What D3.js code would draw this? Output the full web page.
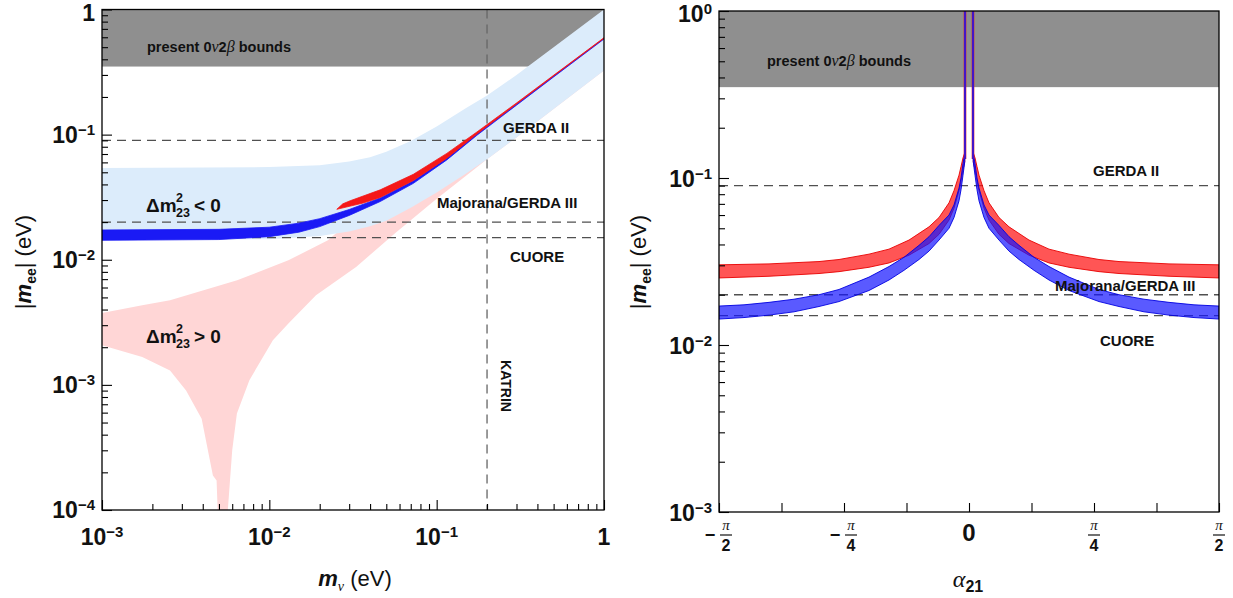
<!DOCTYPE html>
<html><head><meta charset="utf-8">
<script src="https://cdn.jsdelivr.net/npm/d3@7"></script>
<style>
body{margin:0;background:#fff}
svg{display:block}
text{font-family:"Liberation Sans",Arial,Helvetica,sans-serif;fill:#111}
</style>
</head><body>
<svg id="c" width="1233" height="598"></svg>
<script>
// ---------------- DATA (left panel: |m_ee| vs m_nu) ----------------
const grayBound = 0.35;                 // present 0v2b bounds (lower edge)
const expLines = [0.09, 0.02, 0.015];   // GERDA II, Majorana/GERDA III, CUORE
const expNames = ["GERDA II", "Majorana/GERDA III", "CUORE"];
const katrinMass = 0.2;

// inverted hierarchy allowed region (light blue): [m_nu, m_ee]
const ihUpper = [[0.001,0.054],[0.01,0.055],[0.02,0.057],[0.03,0.061],[0.04,0.066],[0.05,0.073],[0.07,0.089],[0.1,0.116],[0.15,0.163],[0.2,0.205],[0.3,0.30],[0.5,0.5],[1,1.0]];
const ihLower = [[0.001,0.0143],[0.01,0.0146],[0.02,0.0155],[0.03,0.0168],[0.04,0.0185],[0.05,0.0205],[0.07,0.026],[0.1,0.0345],[0.15,0.049],[0.2,0.0635],[0.3,0.095],[0.5,0.16],[1,0.325]];

// normal hierarchy allowed region (pink): [m_nu, m_ee]
const nhUpper = [[0.001,0.00375],[0.00174,0.00432],[0.00255,0.00474],[0.00642,0.00686],[0.013,0.0099],[0.0224,0.0143],[0.03,0.02],[0.05,0.03],[0.1,0.06],[0.2,0.12],[1,0.59]];
const nhLower = [[0.001,0.00207],[0.00174,0.00167],[0.00255,0.0013],[0.00318,0.0009],[0.00394,0.000537],[0.0046,0.000189],[0.00484,0.000172],[0.00494,0.00008],[0.00558,0.00008],[0.006,0.0003],[0.0064,0.00059],[0.0076,0.00109],[0.0105,0.00227],[0.013,0.0031],[0.019,0.0052],[0.033,0.00875],[0.0564,0.0163],[0.098,0.030],[0.2,0.0635],[0.3,0.095],[0.5,0.16],[1,0.325]];

// model prediction, IH (blue band)
const blueM  = [0.001, 0.005, 0.01, 0.015, 0.02, 0.03, 0.046, 0.0726, 0.115, 0.174, 0.3, 0.5, 1];
const blueLo = [0.0143, 0.0145, 0.0153, 0.0166, 0.0184, 0.0226, 0.0292, 0.0408, 0.0628, 0.0988, 0.172, 0.289, 0.581];
const blueHi = [0.0173, 0.0175, 0.0182, 0.0196, 0.0213, 0.0252, 0.0312, 0.0428, 0.0648, 0.1010, 0.175, 0.294, 0.588];

// model prediction, NH (red band): [m_nu, m_ee]
const redUpper = [[0.0253,0.0253],[0.0275,0.0280],[0.0304,0.0296],[0.046,0.0362],[0.0726,0.0482],[0.115,0.0708],[0.174,0.1050],[0.3,0.179],[0.5,0.298],[1,0.595]];
const redLower = [[0.0253,0.0253],[0.0364,0.0284],[0.046,0.0315],[0.0726,0.0430],[0.115,0.0648],[0.174,0.1010],[0.3,0.1755],[0.5,0.2945],[1,0.589]];

const leftXTicks = [0.001, 0.01, 0.1, 1];
const leftXLabels = [["10","−3"],["10","−2"],["10","−1"],["1",""]];
const leftYTicks = [1, 0.1, 0.01, 0.001, 0.0001];
const leftYLabels = [["1",""],["10","−1"],["10","−2"],["10","−3"],["10","−4"]];

// ---------------- DATA (right panel: |m_ee| vs alpha21, alpha in units of pi) ----------------
const redAlphaPos  = [0.0085, 0.012, 0.016, 0.02, 0.03, 0.04, 0.06, 0.08, 0.12, 0.16, 0.2, 0.26, 0.3, 0.4, 0.5];
const redAlphaNeg  = [-0.0085, -0.012, -0.016, -0.02, -0.03, -0.04, -0.06, -0.08, -0.12, -0.16, -0.2, -0.26, -0.3, -0.4, -0.5];
const redRightLo   = [0.125, 0.112, 0.096, 0.084, 0.066, 0.056, 0.046, 0.0405, 0.0345, 0.031, 0.0292, 0.0275, 0.0268, 0.0258, 0.0252];
const redRightHi   = [0.142, 0.132, 0.117, 0.104, 0.084, 0.071, 0.058, 0.051, 0.0425, 0.0375, 0.0350, 0.0325, 0.0316, 0.0306, 0.0302];

const blueAlphaPos = [0.0085, 0.012, 0.016, 0.02, 0.03, 0.04, 0.06, 0.08, 0.1, 0.13, 0.16, 0.2, 0.26, 0.3, 0.35, 0.4, 0.45, 0.5];
const blueAlphaNeg = [-0.0085, -0.012, -0.016, -0.02, -0.03, -0.04, -0.06, -0.08, -0.1, -0.13, -0.16, -0.2, -0.26, -0.3, -0.35, -0.4, -0.45, -0.5];
const blueRightHi  = [0.140, 0.122, 0.100, 0.087, 0.069, 0.060, 0.052, 0.0445, 0.0395, 0.0335, 0.0295, 0.0255, 0.0215, 0.0200, 0.0188, 0.0180, 0.0174, 0.0171];
const blueRightLo  = [0.125, 0.104, 0.085, 0.073, 0.058, 0.050, 0.0425, 0.0365, 0.0325, 0.0280, 0.0245, 0.0212, 0.0182, 0.0170, 0.0158, 0.0151, 0.0146, 0.0143];

const spikeAlpha = [-0.008, 0.008];
const spikeFrom = 0.13;

const rightXTicks = [-0.5,-0.375,-0.25,-0.125,0,0.125,0.25,0.375,0.5];
const rightXLabelVals = [-0.5,-0.25,0,0.25,0.5];
const rightXLabels = [["−","π","2"],["−","π","4"],["","0",""],["","π","4"],["","π","2"]];
const rightYTicks = [1, 0.1, 0.01, 0.001];
const rightYLabels = [["10","0"],["10","−1"],["10","−2"],["10","−3"]];

// ---------------- DRAW ----------------
const svg = d3.select("#c");
const defs = svg.append("defs");

const xL = d3.scaleLog().domain([1e-3, 1]).range([102, 604]);
const yL = d3.scaleLog().domain([1e-4, 1]).range([510, 9.5]);
const xR = d3.scaleLinear().domain([-0.5, 0.5]).range([719, 1219]);
const yR = d3.scaleLog().domain([1e-3, 1]).range([512, 11]);

function clip(id, x, y) {
  defs.append("clipPath").attr("id", id).append("rect")
    .attr("x", x.range()[0]).attr("y", y.range()[1])
    .attr("width", x.range()[1]-x.range()[0]).attr("height", y.range()[0]-y.range()[1]);
}
clip("clipL", xL, yL); clip("clipR", xR, yR);

const GRAY = "#8f8f8f", LBLUE = "#dcecfb", PINK = "#ffd6d6";
const DASH = "#505050";

// ----- left panel -----
const gL = svg.append("g").attr("clip-path", "url(#clipL)");
gL.append("rect").attr("x", xL(1e-3)).attr("y", yL(1)).attr("width", xL(1)-xL(1e-3)).attr("height", yL(grayBound)-yL(1)).attr("fill", GRAY);

const lineL = d3.line().x(d => xL(d[0])).y(d => yL(d[1]));
gL.append("path").attr("d", lineL(nhUpper.concat(nhLower.slice().reverse())) + "Z").attr("fill", PINK);
gL.append("path").attr("d", lineL(ihUpper.concat(ihLower.slice().reverse())) + "Z").attr("fill", LBLUE);

expLines.forEach(v => {
  gL.append("line").attr("x1", xL(1e-3)).attr("x2", xL(1)).attr("y1", yL(v)).attr("y2", yL(v))
    .attr("stroke", DASH).attr("stroke-width", 1.3).attr("stroke-dasharray", "9,6");
});
gL.append("line").attr("x1", xL(katrinMass)).attr("x2", xL(katrinMass)).attr("y1", yL(1)).attr("y2", yL(1e-4))
  .attr("stroke", "#666").attr("stroke-width", 1.3).attr("stroke-dasharray", "9,6");

const areaL = d3.area().x((d,i) => xL(blueM[i])).y0((d,i) => yL(blueLo[i])).y1((d,i) => yL(blueHi[i]));
gL.append("path").attr("d", areaL(blueM)).attr("fill", "#1a1af5").attr("stroke", "#1a1af5").attr("stroke-width", 0.8);
gL.append("path").attr("d", lineL(redUpper.concat(redLower.slice().reverse())) + "Z").attr("fill", "#f51818").attr("stroke", "#f51818").attr("stroke-width", 0.8);

// ----- right panel -----
const gR = svg.append("g").attr("clip-path", "url(#clipR)");
gR.append("rect").attr("x", xR(-0.5)).attr("y", yR(1)).attr("width", xR(0.5)-xR(-0.5)).attr("height", yR(grayBound)-yR(1)).attr("fill", GRAY);
expLines.forEach(v => {
  gR.append("line").attr("x1", xR(-0.5)).attr("x2", xR(0.5)).attr("y1", yR(v)).attr("y2", yR(v))
    .attr("stroke", DASH).attr("stroke-width", 1.3).attr("stroke-dasharray", "9,6");
});
function bandR(alpha, lo, hi, fill, stroke) {
  const a = d3.area().x((d,i) => xR(alpha[i])).y0((d,i) => yR(lo[i])).y1((d,i) => yR(hi[i]));
  gR.append("path").attr("d", a(alpha)).attr("fill", fill).attr("stroke", stroke).attr("stroke-width", 0.9);
}
bandR(redAlphaNeg, redRightLo, redRightHi, "rgba(255,20,20,0.72)", "#e80000");
bandR(redAlphaPos, redRightLo, redRightHi, "rgba(255,20,20,0.72)", "#e80000");
bandR(blueAlphaNeg, blueRightLo, blueRightHi, "rgba(20,20,255,0.70)", "#0000e0");
bandR(blueAlphaPos, blueRightLo, blueRightHi, "rgba(20,20,255,0.70)", "#0000e0");
spikeAlpha.forEach(a => {
  gR.append("line").attr("x1", xR(a)).attr("x2", xR(a)).attr("y1", yR(spikeFrom)).attr("y2", yR(1))
    .attr("stroke", "#e02020").attr("stroke-width", 2.6);
  gR.append("line").attr("x1", xR(a)).attr("x2", xR(a)).attr("y1", yR(spikeFrom)).attr("y2", yR(1))
    .attr("stroke", "#1010ff").attr("stroke-width", 1.5);
});

// ----- axes (ticks inward) -----
function minorLog(lo, hi) {
  const out = [];
  for (let e = Math.log10(lo); e < Math.log10(hi); e++) for (let k = 2; k <= 9; k++) out.push(k * Math.pow(10, e));
  return out;
}
function axisG(gen, tr) {
  const g = svg.append("g").attr("transform", tr).call(gen);
  g.select(".domain").remove();
  g.selectAll("text").remove();
  g.selectAll("line").attr("stroke", "#000").attr("stroke-width", 1.1);
}
axisG(d3.axisLeft(yL).tickValues(leftYTicks).tickSize(-10), `translate(${xL.range()[0]},0)`);
axisG(d3.axisLeft(yL).tickValues(minorLog(1e-4, 1)).tickSize(-6), `translate(${xL.range()[0]},0)`);
axisG(d3.axisBottom(xL).tickValues(leftXTicks).tickSize(-10), `translate(0,${yL.range()[0]})`);
axisG(d3.axisBottom(xL).tickValues(minorLog(1e-3, 1)).tickSize(-6), `translate(0,${yL.range()[0]})`);
axisG(d3.axisLeft(yR).tickValues(rightYTicks).tickSize(-10), `translate(${xR.range()[0]},0)`);
axisG(d3.axisLeft(yR).tickValues(minorLog(1e-3, 1)).tickSize(-6), `translate(${xR.range()[0]},0)`);
axisG(d3.axisBottom(xR).tickValues(rightXTicks).tickSize(-9), `translate(0,${yR.range()[0]})`);

[[xL, yL], [xR, yR]].forEach(([x, y]) => {
  svg.append("rect").attr("x", x.range()[0]).attr("y", y.range()[1])
    .attr("width", x.range()[1]-x.range()[0]).attr("height", y.range()[0]-y.range()[1])
    .attr("fill", "none").attr("stroke", "#000").attr("stroke-width", 1.3);
});

// ----- tick labels -----
function powLabel(x, y, base, exp, anchor) {
  const t = svg.append("text").attr("x", x).attr("y", y).attr("text-anchor", anchor)
    .attr("font-size", 23).attr("font-weight", "bold");
  t.append("tspan").text(base);
  if (exp) t.append("tspan").attr("dy", -8).attr("font-size", 15).text(exp);
}
leftYTicks.forEach((v, i) => powLabel(xL.range()[0] - 7, Math.max(yL(v) + 8, 21), leftYLabels[i][0], leftYLabels[i][1], "end"));
leftXTicks.forEach((v, i) => powLabel(xL(v), 545, leftXLabels[i][0], leftXLabels[i][1], "middle"));
rightYTicks.forEach((v, i) => powLabel(xR.range()[0] - 7, Math.max(yR(v) + 9, 22), rightYLabels[i][0], rightYLabels[i][1], "end"));

rightXLabelVals.forEach((v, i) => {
  const [sgn, num, den] = rightXLabels[i];
  const cx = xR(v);
  if (num === "0") {
    svg.append("text").attr("x", cx).attr("y", 541).attr("text-anchor", "middle")
      .attr("font-size", 24).attr("font-weight", "bold").text("0");
    return;
  }
  const fx = sgn ? cx + 7 : cx;
  if (sgn) svg.append("text").attr("x", cx - 9).attr("y", 541).attr("text-anchor", "middle")
    .attr("font-size", 18).attr("font-weight", "bold").text(sgn);
  svg.append("text").attr("x", fx).attr("y", 530).attr("text-anchor", "middle")
    .attr("font-size", 15).attr("font-style", "italic").style("font-family", "'Liberation Serif',serif").text(num);
  svg.append("line").attr("x1", fx - 6).attr("x2", fx + 6).attr("y1", 535).attr("y2", 535)
    .attr("stroke", "#111").attr("stroke-width", 1.2);
  svg.append("text").attr("x", fx).attr("y", 551).attr("text-anchor", "middle")
    .attr("font-size", 16).attr("font-weight", "bold").text(den);
});

// ----- axis titles -----
function yTitle(cx, cy) {
  const t = svg.append("text").attr("transform", `translate(${cx},${cy}) rotate(-90)`)
    .attr("text-anchor", "middle").attr("font-size", 22);
  t.append("tspan").text("|");
  t.append("tspan").attr("font-weight", "bold").attr("font-style", "italic").text("m");
  t.append("tspan").attr("font-weight", "bold").attr("font-size", 14).attr("dy", 5).text("ee");
  t.append("tspan").attr("dy", -5).text("| (eV)");
}
yTitle(31, 262);
yTitle(646, 262);

const xt = svg.append("text").attr("x", 355).attr("y", 586).attr("text-anchor", "middle").attr("font-size", 22);
xt.append("tspan").attr("font-weight", "bold").attr("font-style", "italic").text("m");
xt.append("tspan").attr("font-style", "italic").attr("font-size", 14).attr("dy", 5).style("font-family", "'Liberation Serif',serif").text("ν");
xt.append("tspan").attr("dy", -5).text(" (eV)");

const at = svg.append("text").attr("x", 968).attr("y", 587).attr("text-anchor", "middle");
at.append("tspan").attr("font-size", 24).attr("font-style", "italic").style("font-family", "'Liberation Serif',serif").text("α");
at.append("tspan").attr("font-size", 16).attr("font-weight", "bold").attr("dy", 5).text("21");

// ----- in-plot labels -----
function bounds(x, y) {
  const t = svg.append("text").attr("x", x).attr("y", y).attr("font-size", 14.5).attr("font-weight", "bold");
  t.append("tspan").text("present 0");
  t.append("tspan").attr("font-style", "italic").attr("font-weight", "normal").style("font-family", "'Liberation Serif',serif").attr("font-size", 16).text("ν");
  t.append("tspan").text("2");
  t.append("tspan").attr("font-style", "italic").attr("font-weight", "normal").style("font-family", "'Liberation Serif',serif").attr("font-size", 16).text("β");
  t.append("tspan").text(" bounds");
}
bounds(147, 52);
bounds(767, 66);

function lab(x, y, s) {
  svg.append("text").attr("x", x).attr("y", y).attr("font-size", 15).attr("font-weight", "bold").text(s);
}
lab(503, 133, expNames[0]); lab(437, 208, expNames[1]); lab(510, 262, expNames[2]);
lab(1093, 176, expNames[0]); lab(1055, 291, expNames[1]); lab(1100, 346, expNames[2]);

svg.append("text").attr("transform", "translate(505,386) rotate(90)").attr("text-anchor", "middle")
  .attr("dominant-baseline", "middle").attr("font-size", 14).attr("font-weight", "bold").text("KATRIN");

function dm(x, y, sign) {
  const t = svg.append("text").attr("x", x).attr("y", y).attr("font-size", 19).attr("font-weight", "bold");
  t.append("tspan").text("Δm");
  const sx = x + 30;
  svg.append("text").attr("x", sx).attr("y", y - 10).attr("font-size", 12.5).attr("font-weight", "bold").text("2");
  svg.append("text").attr("x", sx).attr("y", y + 5).attr("font-size", 12.5).attr("font-weight", "bold").text("23");
  svg.append("text").attr("x", sx + 18).attr("y", y).attr("font-size", 19).attr("font-weight", "bold").text(sign + " 0");
}
dm(146, 212, "<");
dm(146, 343, ">");
</script>
</body></html>
